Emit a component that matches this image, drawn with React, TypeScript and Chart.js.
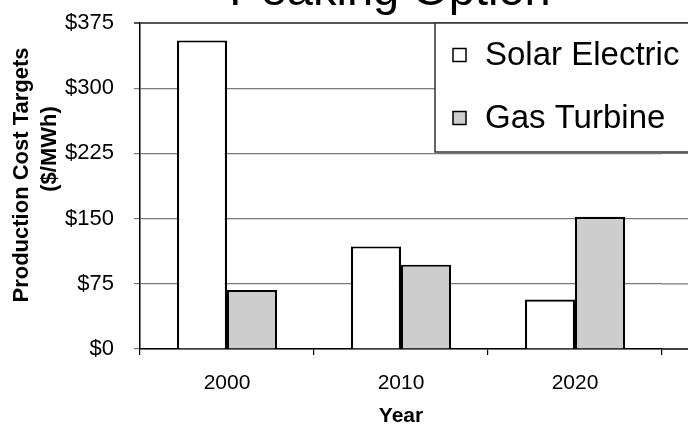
import React, { useEffect, useRef } from "react";
import { Chart, registerables } from "chart.js";

Chart.register(...registerables);

const categories = ["2000", "2010", "2020"];
const solarElectric = [355, 118, 57];
const gasTurbine = [68, 97, 152];
const seriesNames = ["Solar Electric", "Gas Turbine"];
const yTickValues = [0, 75, 150, 225, 300, 375];
const chartTitle = "Peaking Option";
const xTitle = "Year";
const yTitleLines = ["Production Cost Targets", "($/MWh)"];

const FONT = "'Liberation Sans', Arial, Helvetica, sans-serif";
const OFFSET_Y = 39; // canvas shifted up on the page
const CANVAS_W = 780;
const CANVAS_H = 473;
const PLOT_LEFT = 140;
const PLOT_RIGHT = 662;
const PLOT_TOP = 62;

const gridExtension = {
  id: "gridExtension",
  beforeDatasetsDraw(chart: any) {
    const { ctx, chartArea } = chart;
    const y = chart.scales.y;
    ctx.save();
    yTickValues.forEach((v) => {
      const py = y.getPixelForValue(v);
      ctx.beginPath();
      ctx.strokeStyle = v === 0 ? "#000" : v === 375 ? "#555" : "#7a7a7a";
      ctx.lineWidth = v === 0 ? 1.5 : v === 375 ? 2 : 1.2;
      ctx.moveTo(chartArea.right, py);
      ctx.lineTo(chart.width, py);
      ctx.stroke();
    });
    ctx.restore();
  },
};

const customText = {
  id: "customText",
  afterDraw(chart: any) {
    const { ctx, chartArea } = chart;
    ctx.save();
    // chart title (clipped at the top of the page, as in the source)
    ctx.fillStyle = "#000";
    ctx.font = `47px ${FONT}`;
    ctx.textAlign = "center";
    ctx.textBaseline = "middle";
    ctx.fillText(chartTitle, 390, 31.2);

    // y axis title, two rotated lines
    ctx.font = `bold 22px ${FONT}`;
    const pos = [
      [22, 175 + OFFSET_Y],
      [50, 149 + OFFSET_Y],
    ];
    yTitleLines.forEach((t, i) => {
      ctx.save();
      ctx.translate(pos[i][0], pos[i][1]);
      ctx.rotate(-Math.PI / 2);
      ctx.fillText(t, 0, 0);
      ctx.restore();
    });

    // legend box
    const bx = 435;
    const by = chartArea.top;
    const bb = 152 + OFFSET_Y;
    ctx.fillStyle = "#fff";
    ctx.fillRect(bx, by, chart.width - bx + 10, bb - by);
    ctx.strokeStyle = "#333";
    ctx.lineWidth = 1.5;
    ctx.strokeRect(bx, by, chart.width - bx + 10, bb - by);
    const ys = [55 + OFFSET_Y, 118 + OFFSET_Y];
    chart.data.datasets.forEach((ds: any, i: number) => {
      const cy = ys[i];
      ctx.fillStyle = ds.backgroundColor;
      ctx.fillRect(453, cy - 6.5, 13, 13);
      ctx.strokeStyle = "#000";
      ctx.lineWidth = 1.5;
      ctx.strokeRect(453, cy - 6.5, 13, 13);
      ctx.fillStyle = "#000";
      ctx.font = `33px ${FONT}`;
      ctx.textAlign = "left";
      ctx.textBaseline = "middle";
      ctx.fillText(ds.label, 485, cy + 1);
    });
    ctx.restore();
  },
};

export default function App() {
  const ref = useRef<HTMLCanvasElement>(null);
  useEffect(() => {
    if (!ref.current) return;
    const chart = new Chart(ref.current, {
      type: "bar",
      data: {
        labels: categories,
        datasets: [
          {
            label: seriesNames[0],
            data: solarElectric,
            backgroundColor: "#ffffff",
            borderColor: "#000",
            borderWidth: 2.2,
            barPercentage: 1,
            categoryPercentage: 0.575,
          },
          {
            label: seriesNames[1],
            data: gasTurbine,
            backgroundColor: "#cdcdcd",
            borderColor: "#000",
            borderWidth: 2.2,
            barPercentage: 1,
            categoryPercentage: 0.575,
          },
        ],
      },
      options: {
        animation: false,
        responsive: false,
        devicePixelRatio: 1,
        layout: { padding: { left: 0, right: CANVAS_W - PLOT_RIGHT, top: PLOT_TOP, bottom: 0 } },
        plugins: {
          legend: { display: false },
          tooltip: { enabled: false },
          title: { display: false },
        },
        scales: {
          x: {
            type: "category",
            offset: true,
            grid: { offset: true, drawOnChartArea: false, tickLength: 6, color: "#000", lineWidth: 1.2 },
            border: { color: "#000", width: 1.5 },
            ticks: { padding: 16, color: "#000", font: { family: FONT, size: 21 } },
            title: {
              display: true,
              text: xTitle,
              color: "#000",
              font: { family: FONT, size: 21, weight: "bold", lineHeight: 1.2 },
              padding: { top: 0, bottom: 5 },
            },
            afterFit: (s: any) => {
              s.height = 85;
            },
          },
          y: {
            min: 0,
            max: 375,
            afterBuildTicks: (s: any) => {
              s.ticks = yTickValues.map((v) => ({ value: v }));
            },
            ticks: {
              padding: 20,
              color: "#000",
              font: { family: FONT, size: 22 },
              callback: (v: any) => "$" + v,
            },
            grid: {
              tickLength: 6,
              color: (c: any) => (c.tick && c.tick.value === 375 ? "#555" : "#7a7a7a"),
              lineWidth: (c: any) => (c.tick && c.tick.value === 375 ? 2 : 1.2),
            },
            border: { color: "#000", width: 1.5 },
            afterFit: (s: any) => {
              s.width = PLOT_LEFT;
            },
          },
        },
      },
      plugins: [gridExtension, customText],
    });
    return () => chart.destroy();
  }, []);
  return (
    <div
      style={{
        position: "fixed",
        left: 0,
        top: 0,
        width: 688,
        height: 424,
        overflow: "hidden",
        background: "#fff",
      }}
    >
      <div style={{ position: "absolute", left: 0, top: -OFFSET_Y, width: CANVAS_W, height: CANVAS_H }}>
        <canvas ref={ref} width={CANVAS_W} height={CANVAS_H} style={{ display: "block" }} />
      </div>
    </div>
  );
}
